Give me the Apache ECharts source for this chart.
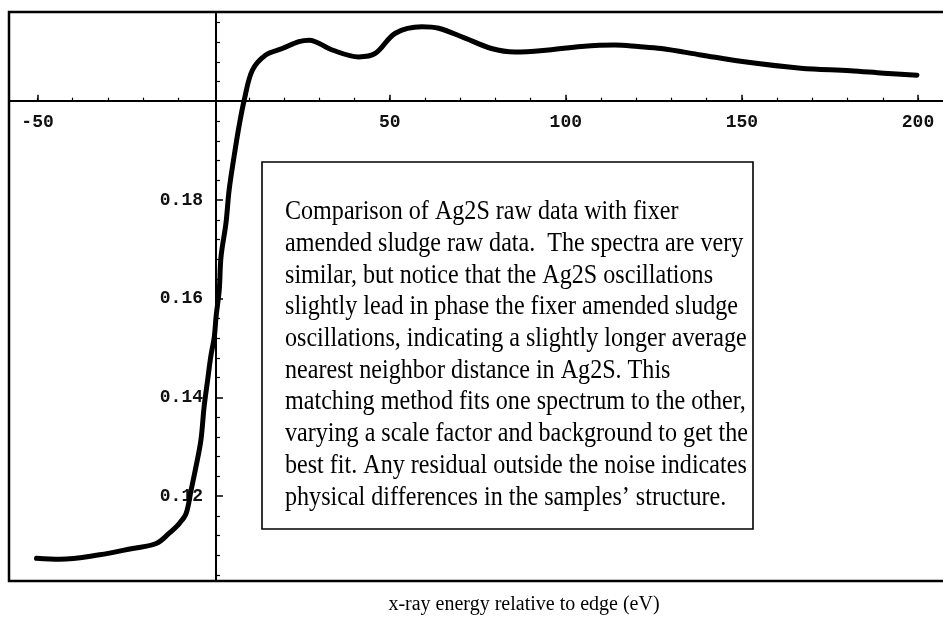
<!DOCTYPE html>
<html>
<head>
<meta charset="utf-8">
<script src="https://cdn.jsdelivr.net/npm/echarts@6/dist/echarts.min.js"></script>
<style>
    html, body { margin: 0; padding: 0; background: #fff; }
    #chart { width: 943px; height: 627px; }
</style>
</head>
<body>
<div id="chart"></div>
<script>
// energy relative to edge (eV) and absorption
const energy = [-50.3, -43.7, -32.4, -23.0, -16.3, -12.6, -9.7, -7.8, -6.4, -5.0, -3.6, -2.7, -1.7, -0.8,
    0.2, 0.7, 1.6, 2.1, 3.5, 4.4, 5.8, 7.2, 8.7, 11.0, 14.8, 19.5, 24.2, 27.1, 33.7, 41.2, 45.9, 51.6,
    59.1, 63.9, 71.4, 78.9, 85.6, 95.0, 104.4, 113.9, 120.5, 127.1, 138.4, 150.7, 166.7, 180.8, 190.3, 199.7];
const absorb = [0.1074, 0.1072, 0.1081, 0.1094, 0.1104, 0.1125, 0.1145, 0.1165, 0.1212, 0.1260, 0.1314,
    0.1381, 0.1435, 0.1483, 0.1523, 0.1564, 0.1618, 0.1685, 0.1753, 0.1820, 0.1888, 0.1949, 0.2003,
    0.2063, 0.2094, 0.2107, 0.2121, 0.2124, 0.2104, 0.2090, 0.2097, 0.2138, 0.2151, 0.2148, 0.2128,
    0.2107, 0.2100, 0.2104, 0.2111, 0.2114, 0.2111, 0.2107, 0.2094, 0.2080, 0.2067, 0.2062, 0.2057, 0.2053];

// tick labels (the ones at the axis crossing are left out, like the original)
const xLabels = [-50, 50, 100, 150, 200];
const yLabels = [0.12, 0.14, 0.16, 0.18];
const xMinor = [-50, -40, -30, -20, -10, 10, 20, 30, 40, 50, 60, 70, 80, 90, 100, 110, 120, 130, 140, 150, 160, 170, 180, 190, 200];
const yMinor = [];
for (let v = 104; v <= 216; v += 4) {
    if (v % 20 !== 0) yMinor.push(v / 1000);
}

const noteLines = [
    "Comparison of Ag2S raw data with fixer",
    "amended sludge raw data.  The spectra are very",
    "similar, but notice that the Ag2S oscillations",
    "slightly lead in phase the fixer amended sludge",
    "oscillations, indicating a slightly longer average",
    "nearest neighbor distance in Ag2S. This",
    "matching method fits one spectrum to the other,",
    "varying a scale factor and background to get the",
    "best fit. Any residual outside the noise indicates",
    "physical differences in the samples\u2019 structure."
];
const xTitle = "x-ray energy relative to edge (eV)";

const xMin = -58.1, xMax = 207.1;
const yMin = 0.1028, yMax = 0.2181;

// squeeze the note so it fits the box like the scan
const noteFont = '28px "Liberation Serif"';
const ctx = document.createElement("canvas").getContext("2d");
ctx.font = noteFont;
let widest = 0;
noteLines.forEach(function (l) { widest = Math.max(widest, ctx.measureText(l).width); });
const noteScale = 463 / widest;

const labelStyle = {
    fontFamily: "Liberation Mono",
    fontWeight: "bold",
    fontSize: 18,
    color: "#111"
};

const chart = echarts.init(document.getElementById("chart"));
const option = {
    animation: false,
    backgroundColor: "#fff",
    grid: { left: 9, top: 12, right: 0, bottom: 46, show: false },
    xAxis: [
        {
            type: "value", min: xMin, max: xMax,
            position: "bottom", offset: -480.3,
            axisLine: { show: true, lineStyle: { color: "#000", width: 2 } },
            axisTick: { show: true, inside: true, length: 6, customValues: xLabels, lineStyle: { color: "#000", width: 1.5 } },
            axisLabel: Object.assign({ customValues: xLabels, margin: 13 }, labelStyle),
            splitLine: { show: false }
        },
        {
            type: "value", min: xMin, max: xMax,
            position: "bottom", offset: -480.3,
            axisLine: { show: false },
            axisTick: { show: true, inside: true, length: 3, customValues: xMinor, lineStyle: { color: "#000", width: 1.2 } },
            axisLabel: { show: false },
            splitLine: { show: false }
        }
    ],
    yAxis: [
        {
            type: "value", min: yMin, max: yMax,
            position: "left", offset: -207,
            axisLine: { show: true, lineStyle: { color: "#000", width: 2 } },
            axisTick: { show: true, inside: true, length: 7, customValues: yLabels, lineStyle: { color: "#000", width: 1.5 } },
            axisLabel: Object.assign({
                customValues: yLabels, margin: 13,
                formatter: function (v) { return v.toFixed(2); }
            }, labelStyle),
            splitLine: { show: false }
        },
        {
            type: "value", min: yMin, max: yMax,
            position: "left", offset: -207,
            axisLine: { show: false },
            axisTick: { show: true, inside: true, length: 4, customValues: yMinor, lineStyle: { color: "#000", width: 1.2 } },
            axisLabel: { show: false },
            splitLine: { show: false }
        }
    ],
    series: [
        {
            type: "line",
            xAxisIndex: 0, yAxisIndex: 0,
            data: energy.map(function (e, i) { return [e, absorb[i]]; }),
            showSymbol: false,
            smooth: 0.35,
            lineStyle: { color: "#000", width: 5, cap: "round", join: "round" }
        }
    ],
    graphic: [
        {
            // plot frame, open on the right like the scan
            type: "rect",
            shape: { x: 9, y: 12, width: 945, height: 569 },
            style: { fill: "none", stroke: "#000", lineWidth: 2.5 },
            silent: true,
            z: 5
        },
        {
            type: "rect",
            shape: { x: 262, y: 162, width: 491, height: 367 },
            style: { fill: "#fff", stroke: "#000", lineWidth: 1.6 },
            z: 10
        },
        {
            type: "text",
            x: 285, y: 196,
            scaleX: noteScale,
            style: {
                text: noteLines.join("\n"),
                font: noteFont,
                lineHeight: 31.7,
                fill: "#000",
                verticalAlign: "top"
            },
            z: 11
        },
        {
            type: "text",
            x: 524, y: 605,
            style: {
                text: xTitle,
                font: '20px "Liberation Serif"',
                fill: "#000",
                align: "center",
                verticalAlign: "middle"
            }
        }
    ]
};
chart.setOption(option);
</script>
</body>
</html>
